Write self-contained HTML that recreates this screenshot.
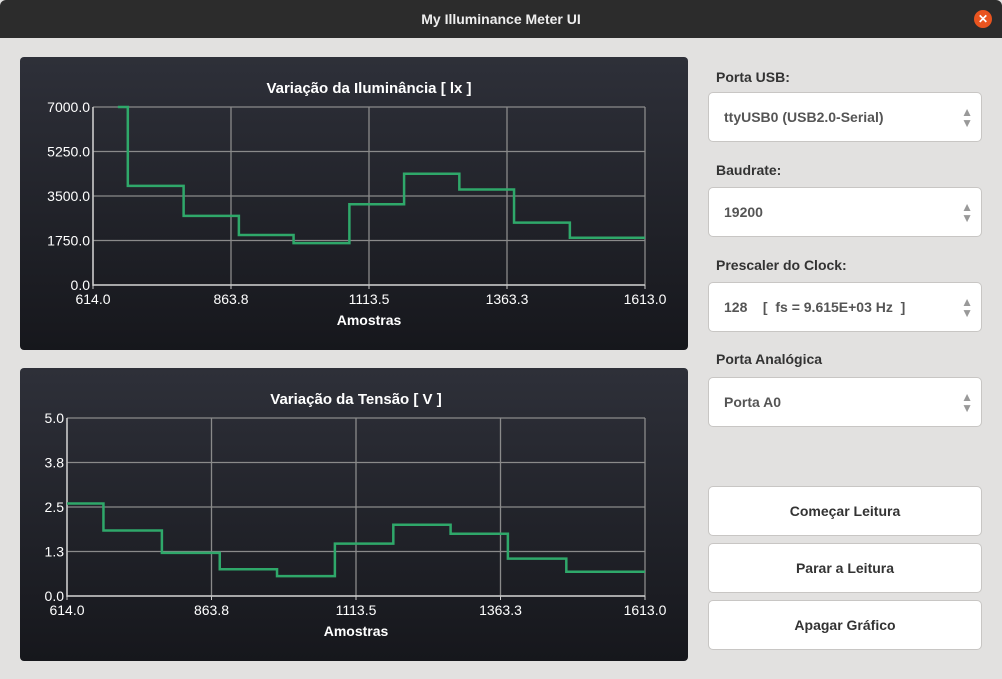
<!DOCTYPE html>
<html><head><meta charset="utf-8"><style>
*{box-sizing:border-box;margin:0;padding:0}
body{width:1002px;height:679px;background:#e2e1e0;font-family:"Liberation Sans",sans-serif;position:relative;overflow:hidden}
#titlebar{position:absolute;left:0;top:0;width:1002px;height:38px;background:#2c2c2c;color:#eee;font-weight:bold;font-size:14px;text-align:center;line-height:38px;border-radius:6px 6px 0 0}
#close{position:absolute;left:974px;top:10px;width:18px;height:18px;border-radius:50%;background:#e9541f;color:#fff;font-size:12px;line-height:18px;text-align:center}
.panel{position:absolute;left:20px;width:668px;height:293px;border-radius:4px;background:linear-gradient(#2e3039,#16171c)}
.lbl{position:absolute;left:716px;font-size:14px;font-weight:bold;color:#333}
.combo{position:absolute;left:708px;width:274px;height:50px;background:#fff;border:1px solid #c8c6c4;border-radius:5px;font-size:14px;font-weight:bold;color:#555;padding-left:15px;line-height:48px}
.combo .arr{position:absolute;right:8px;top:14px;font-size:12px;line-height:11px;color:#999;text-align:center}
.btn{position:absolute;left:708px;width:274px;height:50px;background:#fff;border:1px solid #c8c6c4;border-radius:5px;font-size:14px;font-weight:bold;color:#333;text-align:center;line-height:48px}
svg text{font-family:"Liberation Sans",sans-serif}
</style></head><body>
<div id="titlebar">My Illuminance Meter UI<div id="close">✕</div></div>
<div class="panel" style="top:57px"><svg id="c1" width="668" height="293"></svg></div>
<div class="panel" style="top:368px"><svg id="c2" width="668" height="293"></svg></div>

<div class="lbl" style="top:69px">Porta USB:</div>
<div class="combo" style="top:92px">ttyUSB0 (USB2.0-Serial)<div class="arr">▲<br>▼</div></div>
<div class="lbl" style="top:162px">Baudrate:</div>
<div class="combo" style="top:187px">19200<div class="arr">▲<br>▼</div></div>
<div class="lbl" style="top:257px">Prescaler do Clock:</div>
<div class="combo" style="top:282px;white-space:pre">128    [  fs = 9.615E+03 Hz  ]<div class="arr">▲<br>▼</div></div>
<div class="lbl" style="top:351px">Porta Analógica</div>
<div class="combo" style="top:377px">Porta A0<div class="arr">▲<br>▼</div></div>
<div class="btn" style="top:486px">Começar Leitura</div>
<div class="btn" style="top:543px">Parar a Leitura</div>
<div class="btn" style="top:600px">Apagar Gráfico</div>

<script>
const stepX1 = [659, 677, 778, 878, 977, 1078, 1177, 1277, 1376, 1477, 1613];
const lux = [7000, 3900, 2716, 1964, 1648, 3177, 4377, 3757, 2452, 1859];
const luxTicks = ["0.0","1750.0","3500.0","5250.0","7000.0"];
const stepX2 = [614, 677, 778, 878, 977, 1077, 1178, 1277, 1376, 1477, 1613];
const volts = [2.60, 1.84, 1.21, 0.75, 0.56, 1.47, 2.0, 1.75, 1.05, 0.68];
const voltTicks = ["0.0","1.3","2.5","3.8","5.0"];
const xTicks = ["614.0","863.8","1113.5","1363.3","1613.0"];
const NS='http://www.w3.org/2000/svg';
function mk(svg,tag,attrs,txt){const e=document.createElementNS(NS,tag);for(const k in attrs)e.setAttribute(k,attrs[k]);if(txt!==undefined)e.textContent=txt;svg.appendChild(e);return e;}
function chart(id,title,L,ymax,yt,sx,vals){
  const svg=document.getElementById(id);
  const T=50,R=625,B=228;
  const xs=v=>L+(v-614)/(1613-614)*(R-L);
  const ys=v=>B-v/ymax*(B-T);
  let t=mk(svg,'text',{x:(L+R)/2,y:36,'text-anchor':'middle',fill:'#fff','font-size':15,'font-weight':'bold'},title);
  
  for(let i=0;i<5;i++){
    const y=T+(B-T)*i/4, x=L+(R-L)*i/4;
    let g=mk(svg,'line',{x1:L,x2:R,y1:y,y2:y,stroke:'#8a8a8a','stroke-width':1.3});
    
    g=mk(svg,'line',{x1:x,x2:x,y1:T,y2:B,stroke:'#8a8a8a','stroke-width':1.3});
    
    let yl=mk(svg,'text',{x:L-3,y:B-(B-T)*i/4+5,'text-anchor':'end',fill:'#fff','font-size':14},yt[i]);
    
    let xl=mk(svg,'text',{x:x,y:B+19,'text-anchor':'middle',fill:'#fff','font-size':14},xTicks[i]);
    
    let tk=mk(svg,'line',{x1:x,x2:x,y1:B,y2:B+4,stroke:'#ccc'});
    
  }
  let ax=mk(svg,'line',{x1:L,x2:L,y1:T,y2:B+1,stroke:'#ccc','stroke-width':1.5});
  
  let xa=mk(svg,'line',{x1:L,x2:R,y1:B,y2:B,stroke:'#ccc','stroke-width':1.5});
  
  let at=mk(svg,'text',{x:(L+R)/2,y:B+40,'text-anchor':'middle',fill:'#fff','font-size':14,'font-weight':'bold'},'Amostras');
  
  let d='';
  for(let i=0;i<vals.length;i++){
    d+=(i?'L':'M')+xs(sx[i])+','+ys(vals[i])+'L'+xs(sx[i+1])+','+ys(vals[i]);
  }
  let p=mk(svg,'path',{d:d,fill:'none',stroke:'#2fa86a','stroke-width':2.5});
  
}
chart('c1','Variação da Iluminância [ lx ]',73,7000,luxTicks,stepX1,lux);
chart('c2','Variação da Tensão [ V ]',47,5,voltTicks,stepX2,volts);
</script>
</body></html>
